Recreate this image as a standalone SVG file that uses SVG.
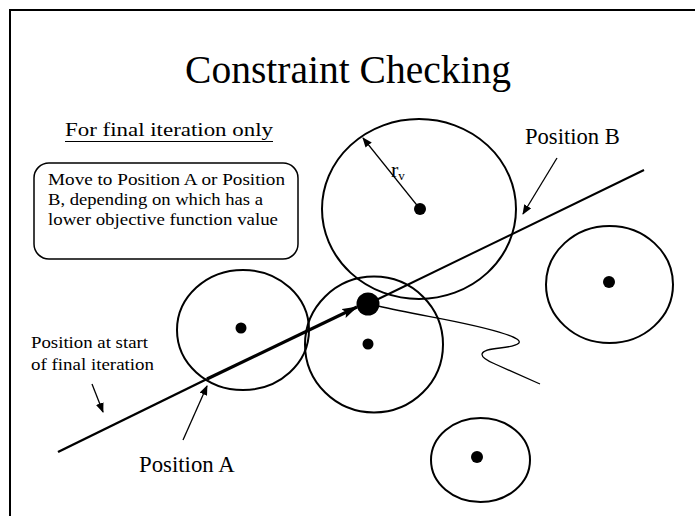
<svg xmlns="http://www.w3.org/2000/svg" width="695" height="516" viewBox="0 0 695 516" font-family="'Liberation Serif', 'Times New Roman', serif">
<style>
text{font-family:"Liberation Serif","Times New Roman",serif;fill:#000}
.c{fill:none;stroke:#000;stroke-width:2}
.d{fill:#000}
.ln{fill:none;stroke:#000}
</style>
<defs>
<marker id="ah" markerWidth="10" markerHeight="8" refX="9" refY="4" orient="auto" markerUnits="userSpaceOnUse">
<path d="M0,0 L10,4 L0,8 Z" fill="#000"/>
</marker>
<marker id="ahb" markerWidth="16" markerHeight="10" refX="15" refY="5" orient="auto" markerUnits="userSpaceOnUse">
<path d="M0,0 L16,5 L0,10 L3,5 Z" fill="#000"/>
</marker>
</defs>
<rect width="695" height="516" fill="#fff"/>
<path d="M10,516 L10,10 L695,10" fill="none" stroke="#000" stroke-width="2"/>
<text x="348" y="83" font-size="39.5" text-anchor="middle">Constraint Checking</text>
<g id="heading">
<text x="65" y="136" font-size="18" textLength="208" lengthAdjust="spacingAndGlyphs">For final iteration only</text>
<line x1="65" y1="141.5" x2="273" y2="141.5" stroke="#000" stroke-width="1.2"/>
</g>
<g id="note">
<rect x="34" y="163" width="264" height="96" rx="15" ry="15" fill="#fff" stroke="#000" stroke-width="1.5"/>
<text font-size="16.5"><tspan x="48" y="185" textLength="237" lengthAdjust="spacingAndGlyphs">Move to Position A or Position</tspan></text>
<text font-size="16.5"><tspan x="48" y="205" textLength="215" lengthAdjust="spacingAndGlyphs">B, depending on which has a</tspan></text>
<text font-size="16.5"><tspan x="48" y="225" textLength="230" lengthAdjust="spacingAndGlyphs">lower objective function value</tspan></text>
</g>
<g id="circle-top">
<ellipse class="c" cx="419" cy="209" rx="97" ry="90"/>
<circle class="d" cx="420" cy="209" r="6"/>
</g>
<g id="circle-left">
<ellipse class="c" cx="243" cy="330" rx="66" ry="60"/>
<circle class="d" cx="241" cy="328" r="5.5"/>
</g>
<g id="circle-mid">
<ellipse class="c" cx="374" cy="344.5" rx="69" ry="68"/>
<circle class="d" cx="368" cy="344" r="5.5"/>
</g>
<g id="circle-right">
<ellipse class="c" cx="609.5" cy="284.5" rx="63.5" ry="58.5"/>
<circle class="d" cx="609" cy="282" r="6"/>
</g>
<g id="circle-bottom">
<ellipse class="c" cx="480.5" cy="460" rx="49.5" ry="42"/>
<circle class="d" cx="477" cy="457" r="6"/>
</g>
<g id="connectors">
<line class="ln" x1="420" y1="209" x2="363" y2="138" stroke-width="1.2" marker-end="url(#ah)"/>
<line class="ln" x1="368" y1="304" x2="644" y2="170" stroke-width="2"/>
<line class="ln" x1="58" y1="452" x2="207" y2="379" stroke-width="2.5"/>
<line class="ln" x1="207" y1="379" x2="357" y2="307" stroke-width="3.2" marker-end="url(#ahb)"/>
<path class="ln" stroke-width="1.3" d="M378,306 C420,316 470,322 505,334 C530,342 518,346 500,348 C478,350 476,356 495,364 L540,384"/>
<line class="ln" x1="557" y1="158" x2="523" y2="214" stroke-width="1.3" marker-end="url(#ah)"/>
<line class="ln" x1="92" y1="384" x2="103" y2="412" stroke-width="1.3" marker-end="url(#ah)"/>
<line class="ln" x1="183" y1="440" x2="207" y2="386" stroke-width="1.3" marker-end="url(#ah)"/>
</g>
<g id="big-dot"><circle class="d" cx="368" cy="304" r="11.5"/></g>
<g id="labels">
<text x="391" y="177" font-size="22">r<tspan font-size="13" dy="3">v</tspan></text>
<text x="525" y="144" font-size="22.6">Position B</text>
<text font-size="17" textLength="117" lengthAdjust="spacingAndGlyphs" x="31" y="348">Position at start</text>
<text font-size="17" textLength="123" lengthAdjust="spacingAndGlyphs" x="31" y="370">of final iteration</text>
<text x="139" y="472" font-size="22.8">Position A</text>
</g>
</svg>
